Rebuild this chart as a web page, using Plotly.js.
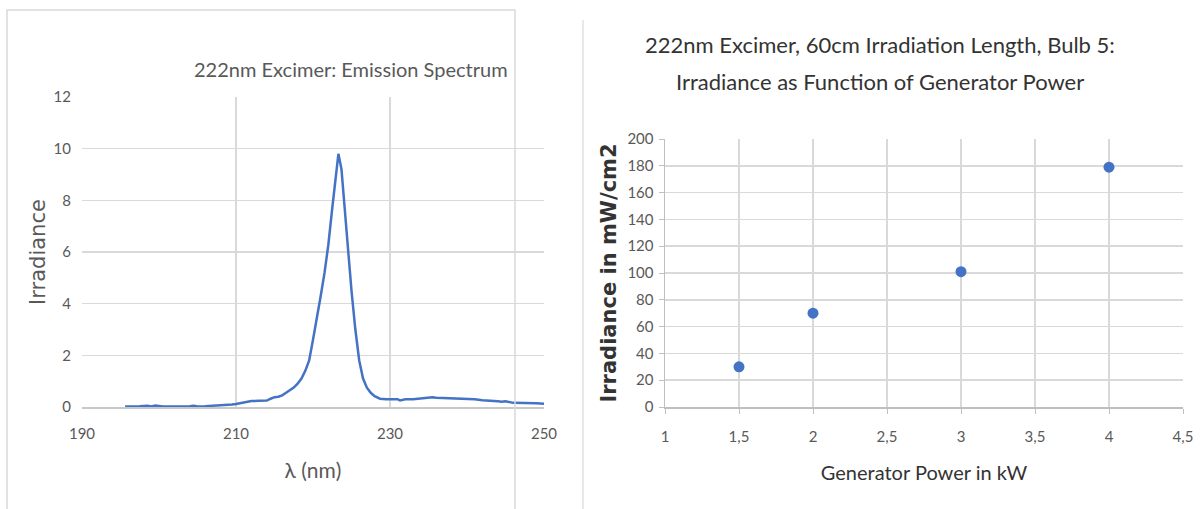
<!DOCTYPE html>
<html><head><meta charset="utf-8">
<script src="https://cdn.plot.ly/plotly-3.0.1.min.js"></script>
<style>html,body{margin:0;padding:0;background:#fff}#chart{width:1200px;height:509px}</style>
</head><body><div id="chart"></div>
<script>
// Left chart: emission spectrum
const wavelength = [195.6,196.5,197.5,198.5,199,199.5,200,200.5,201,202,203,204,204.5,205,206,207,207.5,208,209,209.5,210,210.5,211,211.5,212,213,214,214.5,215,215.5,216,216.5,217,217.5,218,218.5,219,219.5,220,220.5,221,221.5,222,222.5,223,223.3,223.7,224,224.5,225,225.5,226,226.5,227,227.5,228,228.7,229.5,230,231,231.3,232,233,234,235,235.5,236,237,238,239,240,241,242,243,244,244.5,245,246,247,248,249,250];
const irradiance = [0.02,0.02,0.03,0.05,0.02,0.06,0.03,0.02,0.02,0.02,0.03,0.03,0.05,0.02,0.03,0.05,0.06,0.05,0.07,0.1,0.12,0.15,0.17,0.2,0.23,0.24,0.25,0.32,0.38,0.4,0.45,0.55,0.65,0.75,0.9,1.1,1.4,1.8,2.6,3.4,4.3,5.2,6.3,7.7,9.0,9.8,9.2,8.0,6.3,4.5,3.0,1.8,1.1,0.75,0.55,0.42,0.32,0.3,0.3,0.3,0.25,0.3,0.3,0.33,0.36,0.38,0.36,0.35,0.32,0.31,0.31,0.3,0.26,0.25,0.22,0.2,0.22,0.16,0.16,0.16,0.15,0.13];

// Right chart: irradiance vs generator power
const generatorPower = [1.5, 2, 3, 4];
const irradianceMW = [30, 70, 101, 179];

const leftTitle = "222nm Excimer: Emission Spectrum";
const rightTitleLine1 = "222nm Excimer, 60cm Irradiation Length, Bulb 5:";
const rightTitleLine2 = "Irradiance as Function of Generator Power";

const narrow = "Lato, sans-serif";
const tickFont = {family: narrow, size: 15, color: "#595959"};
const grid = "#d9d9d9";

const traces = [
  {x: wavelength, y: irradiance, type: "scatter", mode: "lines", line: {color: "#4472C4", width: 2.5}, xaxis: "x", yaxis: "y", hoverinfo: "skip"},
  {x: generatorPower, y: irradianceMW, type: "scatter", mode: "markers", marker: {color: "#4472C4", size: 11}, xaxis: "x2", yaxis: "y2", hoverinfo: "skip"}
];

const layout = {
  width: 1200, height: 509,
  margin: {l: 0, r: 0, t: 0, b: 0},
  paper_bgcolor: "#fff", plot_bgcolor: "#fff",
  showlegend: false,
  separators: ", ",
  xaxis: {
    domain: [82/1200, 544/1200], anchor: "y",
    range: [190, 250], tickvals: [190, 210, 230, 250],
    showgrid: true, gridcolor: grid, gridwidth: 1.5,
    zeroline: false, showline: true, linecolor: "#c8c8c8", linewidth: 2,
    ticks: "", tickfont: tickFont, ticklabelstandoff: 12,
    title: {text: "λ (nm)", font: {family: narrow, size: 21, color: "#595959"}, standoff: 22}
  },
  yaxis: {
    domain: [102/509, 412/509], anchor: "x",
    range: [0, 12], dtick: 2,
    showgrid: true, gridcolor: grid, gridwidth: 1.5,
    zeroline: false, showline: false,
    ticks: "", tickfont: tickFont, ticklabelstandoff: 10,
    title: {text: "Irradiance", font: {family: "DejaVu Sans, sans-serif", size: 21, color: "#595959"}, standoff: 2}
  },
  xaxis2: {
    domain: [665/1200, 1183/1200], anchor: "y2",
    range: [1, 4.5], dtick: 0.5,
    showgrid: true, gridcolor: grid, gridwidth: 1.5,
    zeroline: false, showline: true, linecolor: "#bfbfbf", linewidth: 1.5,
    ticks: "outside", ticklen: 5, tickcolor: "#bfbfbf",
    tickfont: tickFont, ticklabelstandoff: 10,
    title: {text: "Generator Power in kW", font: {family: narrow, size: 20, color: "#333"}, standoff: 22}
  },
  yaxis2: {
    domain: [102/509, 370/509], anchor: "x2",
    range: [0, 200], dtick: 20,
    showgrid: true, gridcolor: grid, gridwidth: 1.5,
    zeroline: false, showline: true, linecolor: "#bfbfbf", linewidth: 1.5,
    ticks: "outside", ticklen: 5, tickcolor: "#bfbfbf",
    tickfont: tickFont, ticklabelstandoff: 2,
    title: {text: "Irradiance in mW/cm2", font: {family: "DejaVu Sans, sans-serif", size: 21, color: "#333", weight: "bold"}, standoff: 5}
  },
  annotations: [
    {text: leftTitle, xref: "paper", yref: "paper", x: 351/1200, y: 1 - 69/509, xanchor: "center", yanchor: "middle", showarrow: false,
     font: {family: narrow, size: 20, color: "#595959"}},
    {text: rightTitleLine1, xref: "paper", yref: "paper", x: 880/1200, y: 1 - 44/509, xanchor: "center", yanchor: "middle", showarrow: false,
     font: {family: narrow, size: 22, color: "#333"}},
    {text: rightTitleLine2, xref: "paper", yref: "paper", x: 880/1200, y: 1 - 81/509, xanchor: "center", yanchor: "middle", showarrow: false,
     font: {family: narrow, size: 22, color: "#333"}}
  ],
  shapes: [
    {type: "rect", xref: "paper", yref: "paper", x0: 7/1200, x1: 515/1200, y0: -0.01, y1: 1 - 10/509, line: {color: "#d9d9d9", width: 1.5}},
    {type: "line", xref: "paper", yref: "paper", x0: 583/1200, x1: 583/1200, y0: 0, y1: 1 - 20/509, line: {color: "#e0e0e0", width: 1.5}}
  ]
};

Plotly.newPlot("chart", traces, layout, {staticPlot: true, displayModeBar: false});
</script>
</body></html>
